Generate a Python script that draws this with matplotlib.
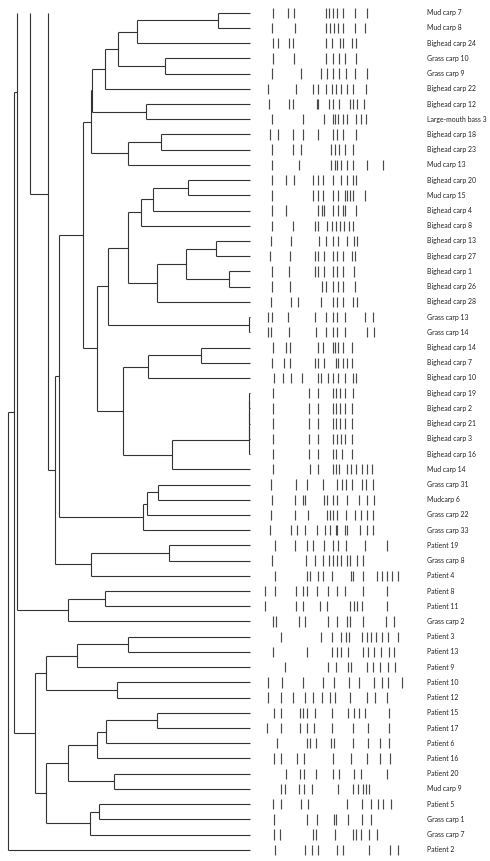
import matplotlib
matplotlib.use("Agg")
from matplotlib import pyplot as plt
from matplotlib import font_manager
import numpy as np

labels = [
    "Mud carp 7", "Mud carp 8", "Bighead carp 24", "Grass carp 10", "Grass carp 9",
    "Bighead carp 22", "Bighead carp 12", "Large-mouth bass 3", "Bighead carp 18",
    "Bighead carp 23", "Mud carp 13", "Bighead carp 20", "Mud carp 15", "Bighead carp 4",
    "Bighead carp 8", "Bighead carp 13", "Bighead carp 27", "Bighead carp 1",
    "Bighead carp 26", "Bighead carp 28", "Grass carp 13", "Grass carp 14",
    "Bighead carp 14", "Bighead carp 7", "Bighead carp 10", "Bighead carp 19",
    "Bighead carp 2", "Bighead carp 21", "Bighead carp 3", "Bighead carp 16",
    "Mud carp 14", "Grass carp 31", "Mudcarp 6", "Grass carp 22", "Grass carp 33",
    "Patient 19", "Grass carp 8", "Patient 4", "Patient 8", "Patient 11", "Grass carp 2",
    "Patient 3", "Patient 13", "Patient 9", "Patient 10", "Patient 12", "Patient 15",
    "Patient 17", "Patient 6", "Patient 16", "Patient 20", "Mud carp 9", "Patient 5",
    "Grass carp 1", "Grass carp 7", "Patient 2",
]
n_leaves = len(labels)

# merges: (child a, child b, height); ids >= n_leaves are earlier merges, -1 = top of tree
merges = [
    (0, 1, 218), (56, 2, 137), (3, 4, 165), (57, 58, 118), (59, 5, 105),
    (6, 7, 146), (60, 61, 92), (8, 9, 160.7), (63, 10, 128), (62, 64, 91.3),
    (11, 12, 188.3), (66, 13, 153.3), (67, 14, 140.7), (15, 16, 215.7),
    (17, 18, 229.3), (69, 70, 185.7), (71, 19, 156.7), (68, 72, 128),
    (20, 21, 249), (73, 74, 108), (22, 23, 201.3), (76, 24, 147.7),
    (25, 26, 249.3), (78, 27, 249.3), (79, 28, 249.3), (80, 29, 249.3),
    (81, 30, 172.3), (77, 82, 122.7), (75, 83, 96.7), (65, 84, 83),
    (31, 32, 157.7), (86, 33, 146.7), (87, 34, 142.7), (85, 88, 59.3),
    (35, 36, 169.3), (90, 37, 90.7), (89, 91, 55),
    (-1, 92, 47.7), (-1, 93, 30),
    (38, 39, 104.7), (95, 40, 68.3), (-1, 96, 17.3),
    (41, 42, 127.7), (98, 43, 77), (44, 45, 117.3), (99, 100, 46.3),
    (46, 47, 157.3), (102, 48, 106.3), (103, 49, 97), (50, 51, 114.3),
    (104, 105, 68.3), (52, 53, 99.3), (107, 54, 90), (106, 108, 46.3),
    (101, 109, 35), (97, 110, 14), (111, 55, 8.3),
]
# rows where the odd top-anchored nodes hook onto their parents
link_rows = {93: 11.93, 97: 5.19}
leaf_height = 250

# band positions for each lane (same units as the tree axis)
bands = [
    [272.7, 287.7, 294.3, 326, 329.3, 332.7, 337.3, 342.7, 355.3, 366.7],
    [272, 295, 326, 330, 334, 338.3, 342.7, 355.3, 365.3],
    [273.3, 277.7, 289, 293.3, 326, 331.7, 340, 343.3, 351.7, 356],
    [272.7, 294.3, 326, 333.3, 339.3, 345, 356],
    [272, 300.7, 320.7, 327.3, 333.3, 339.3, 345.7, 355.3, 367.3],
    [268.3, 296, 312.7, 318.3, 326, 331.7, 336, 340.7, 346.7, 353.3, 366],
    [269.3, 289.3, 293.3, 316.7, 318.3, 329, 333.3, 339.3, 350, 353.3, 357.3, 364],
    [272, 303.3, 324, 333.3, 335, 338.3, 343.3, 347.3, 356, 360.7, 366],
    [270, 278.3, 293.3, 303.3, 317.7, 333.3, 337.3, 342.7, 356],
    [272, 293.3, 300.7, 330.7, 335, 339.3, 345, 353.3],
    [272, 299.3, 330.7, 335, 337.3, 340.7, 346.7, 353.3, 366.7, 382.7],
    [272, 286, 294.3, 312.7, 318.3, 323.3, 333.3, 340.7, 346.7, 352.7, 356],
    [272, 312.7, 317.7, 322.7, 333.3, 338.3, 345, 347.3, 350, 352.7, 365.3],
    [272, 286, 318.3, 321.7, 324, 333.3, 338.3, 342.7, 345, 356],
    [272, 293.3, 315, 318.3, 326.7, 331.7, 336, 340, 344, 349.3, 352.7],
    [270.7, 290.7, 319.3, 326, 333.3, 338.3, 346.7, 354, 357.3],
    [270, 290, 315, 318.3, 324, 332.7, 337.3, 343.3, 351.7, 355],
    [272, 289.3, 315, 318.3, 324, 332.7, 337.3, 343.3, 354],
    [272, 290, 321.7, 326, 333.3, 338.3, 343.3, 355],
    [270.7, 290.7, 298.3, 320.7, 333.3, 336.7, 343.3, 352.7, 356.7],
    [268.3, 272, 288.3, 315, 326, 333.3, 337.3, 345, 365, 373.3],
    [268.3, 270.7, 289.3, 315.7, 326, 333.3, 336.7, 345, 366.7, 374],
    [273.3, 286, 290, 318.3, 323.3, 332.7, 335, 338.3, 342.7, 351.7],
    [272, 284, 290, 315, 318.3, 324, 336, 338.3, 343.3, 347.3, 351.7],
    [274, 282.7, 290.7, 301.7, 318.3, 320.7, 328.3, 333.3, 338.3, 345, 352.7, 356],
    [272.7, 309.3, 318.3, 332.7, 336, 340, 345, 352.7],
    [272.7, 309.3, 318.3, 332.7, 336, 340, 345, 351.7],
    [272.7, 309.3, 318.3, 332.7, 336, 340, 345, 351.7],
    [272.7, 309.3, 318.3, 332.7, 336.7, 340.7, 345, 351.7],
    [272.7, 309.3, 318.3, 332.7, 336, 341.7, 351.7],
    [272.7, 310, 318.3, 332.7, 336, 339.3, 346.7, 350.7, 356, 361.7, 366.7, 371.7],
    [270.7, 296, 306.7, 322.7, 337.3, 341.7, 346, 351.7, 361.7, 366, 373.3],
    [272, 295, 303.3, 305, 324, 327.3, 333.3, 337.3, 346.7, 359.3, 366.7, 374],
    [270.7, 295, 308.3, 326.7, 330, 333.3, 337.3, 346, 355, 360.7, 367.3, 373.3],
    [270, 290.7, 296.7, 305, 316.7, 325, 330, 336, 337.3, 345, 347.3, 360, 366.7, 373.3],
    [275, 295, 307.3, 313.3, 324, 333.3, 338.3, 346, 365, 386.7],
    [272, 306, 315, 323.3, 329.3, 332.7, 337.3, 340.7, 346.7, 350, 357.3, 363.3],
    [275, 306.7, 310, 318.3, 323.3, 331.7, 350.7, 353.3, 363.3, 376.7, 381.7, 386.7, 391.7, 398.3],
    [265, 275, 296, 303.3, 307.3, 316.7, 328.3, 337.3, 345, 363.3, 386.7],
    [265, 296, 303.3, 320, 327.3, 350, 354, 356.7, 361.7, 386.7],
    [272.7, 276, 299.3, 305, 328.3, 337.3, 347.3, 350, 362.7, 386, 394],
    [280.7, 320.7, 331.7, 340.7, 346, 349.3, 361.7, 366.7, 370.7, 376, 381.7, 388.3, 398.3],
    [272.7, 306.7, 331.7, 337.3, 340.7, 348.3, 362.7, 368.3, 374, 380.7, 389.3, 394],
    [285, 328.3, 336, 348.3, 350.7, 367.3, 372.7, 380, 388.3, 395],
    [268.3, 282.3, 303.3, 323.3, 334, 349.3, 359.3, 374, 381.7, 388.3, 401.7],
    [268.3, 280.7, 292.7, 305, 313.3, 321.7, 330, 335, 350, 367.3, 375, 387.3],
    [274, 280.7, 300, 303.3, 306.7, 315, 331.7, 348.3, 354, 359.3, 365, 389.3],
    [267.3, 280.7, 300, 306.7, 314, 331.7, 352.7, 368.3, 389.3],
    [277.3, 306.7, 310, 316, 330.7, 334, 353.3, 368.3, 380, 389.3],
    [274, 280.7, 297.3, 304, 333.3, 350.7, 366.7, 380, 390],
    [286, 300, 304, 316, 333.3, 339.3, 354, 360.7, 387.3],
    [280.7, 285, 299.3, 304, 311.7, 338.3, 353.3, 358.3, 363.3, 366, 369.3],
    [272.7, 280.7, 300.7, 308.3, 347.3, 361.7, 370.7, 378.3, 383.3, 390.7],
    [274, 307.3, 316.7, 334, 336, 348.3, 361.7, 370.7],
    [274, 280, 313.3, 316, 335, 352.7, 356, 360.7, 369.3, 377.3],
    [275, 305, 311.7, 318.3, 337.3, 343.3, 369.3, 390, 398.3],
]

fig = plt.figure(figsize=(4.9, 8.61), dpi=100)
ax = fig.add_axes([0, 0, 1, 1])
ax.set_xlim(0, 490)
ax.set_ylim(n_leaves - 1 + 0.736, -0.834)
ax.axis("off")

line_col = "#333333"

# dendrogram
ypos = {i: float(i) for i in range(n_leaves)}
xpos = {i: leaf_height for i in range(n_leaves)}
ypos[-1] = 0.0
for k, (a, b, h) in enumerate(merges):
    node = n_leaves + k
    ax.plot([h, h], [ypos[a], ypos[b]], color=line_col, lw=0.8, solid_capstyle="butt")
    for c in (a, b):
        if c != -1:
            ax.plot([h, xpos[c]], [ypos[c], ypos[c]], color=line_col, lw=0.8,
                    solid_capstyle="butt")
    ypos[node] = link_rows.get(node, (ypos[a] + ypos[b]) / 2)
    xpos[node] = h

# gel lanes
for i, lane in enumerate(bands):
    ax.vlines(lane, i - 0.34, i + 0.34, color="#4a4a4a", lw=0.85)

# the figure uses a narrow face: take the narrowest installed sans and size it
# so the longest label is about 60 px wide
fig.canvas.draw()
best = None
for fam in ["Roboto", "Lato", "Liberation Sans", "Noto Sans", "Open Sans", "Inter", "DejaVu Sans"]:
    probe = ax.text(0, 0, "Large-mouth bass 3", family=fam, fontsize=7)
    w = probe.get_window_extent(renderer=fig.canvas.get_renderer()).width
    probe.remove()
    if best is None or w < best[1]:
        best = (fam, w)
label_family = best[0]
label_size = min(7.0, 7.0 * 60.0 / best[1])

for i, lab in enumerate(labels):
    ax.text(427, i, lab, family=label_family, fontsize=label_size,
            va="center", ha="left", color="#222222")

fig.savefig("out.png", dpi=100)
